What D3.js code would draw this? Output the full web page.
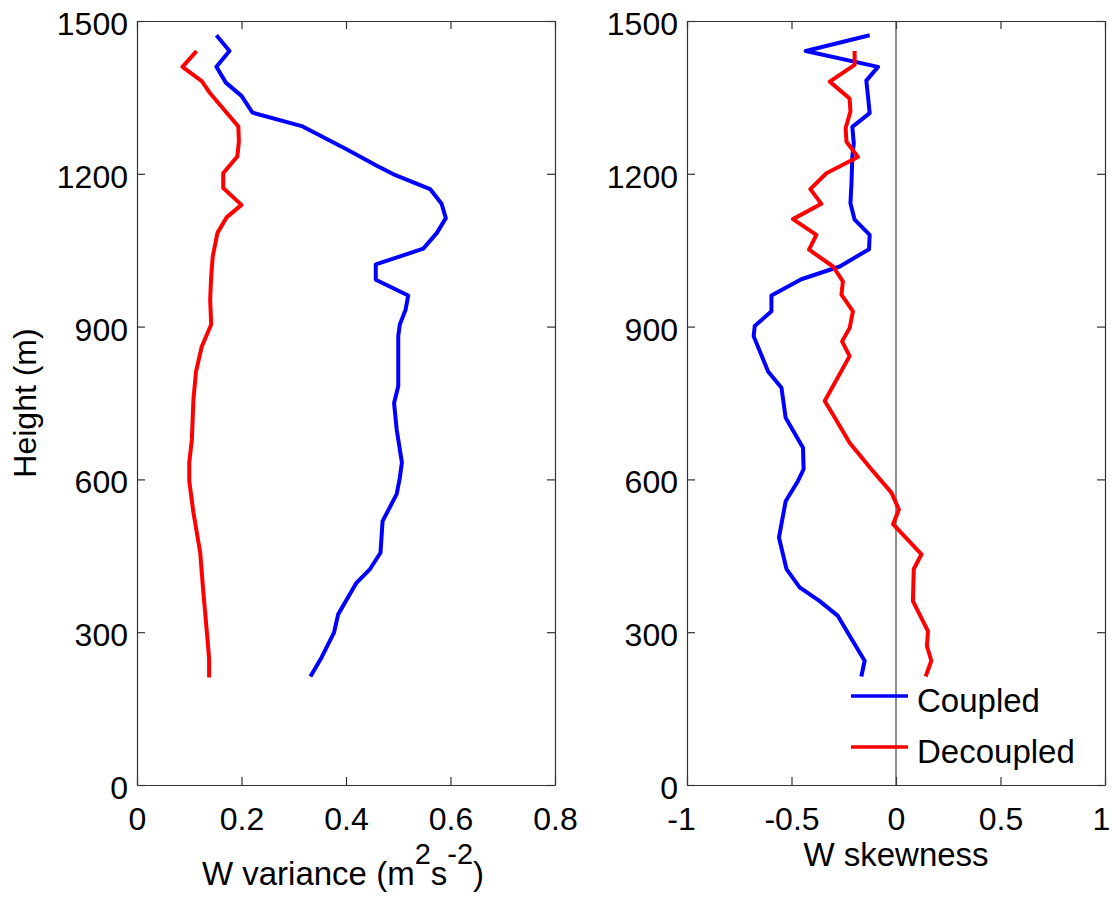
<!DOCTYPE html>
<html>
<head>
<meta charset="utf-8">
<script src="https://unpkg.com/d3@7/dist/d3.min.js"></script>
<style>
  body { margin: 0; background: #fff; }
  text { font-family: "Liberation Sans", Arial, sans-serif; fill: #000; }
</style>
</head>
<body>
<svg id="chart" width="1112" height="899"></svg>
<script>
// left panel: vertical velocity variance
const varCoupledHeight = [1472,1441,1410,1379,1353,1320,1293,1248,1216,1199,1170,1141,1113,1084,1053,1022,992,961,933,904,881,783,750,698,633,603,571,518,456,424,397,335,299,250,213]
const varCoupled = [0.152,0.177,0.152,0.170,0.200,0.221,0.317,0.401,0.459,0.491,0.561,0.583,0.591,0.574,0.548,0.457,0.457,0.519,0.514,0.503,0.500,0.500,0.492,0.497,0.507,0.503,0.497,0.470,0.466,0.446,0.420,0.385,0.377,0.353,0.332]

const varDecoupledHeight = [1441,1410,1382,1358,1335,1293,1263,1234,1201,1172,1139,1115,1084,1038,999,953,904,861,812,757,678,633,597,535,456,378,286,247,211]
const varDecoupled = [0.114,0.087,0.124,0.140,0.159,0.194,0.195,0.192,0.165,0.165,0.200,0.172,0.154,0.145,0.142,0.140,0.142,0.124,0.113,0.108,0.105,0.100,0.100,0.108,0.121,0.127,0.135,0.138,0.138]

// right panel: skewness
const skewCoupledHeight = [1472,1441,1410,1383,1352,1319,1292,1260,1234,1182,1142,1110,1080,1052,1018,993,961,930,901,881,812,780,721,662,620,597,557,486,424,388,361,332,293,244,213]
const skewCoupled = [-0.126,-0.432,-0.086,-0.142,-0.134,-0.126,-0.209,-0.202,-0.209,-0.213,-0.218,-0.198,-0.126,-0.129,-0.269,-0.453,-0.596,-0.596,-0.676,-0.681,-0.612,-0.548,-0.528,-0.445,-0.442,-0.469,-0.528,-0.560,-0.524,-0.461,-0.365,-0.278,-0.222,-0.150,-0.166]

const skewDecoupledHeight = [1441,1414,1381,1348,1322,1290,1263,1233,1201,1170,1141,1111,1080,1051,1018,989,963,930,897,871,842,754,727,672,620,574,541,512,453,424,361,302,273,244,213]
const skewDecoupled = [-0.198,-0.198,-0.317,-0.222,-0.218,-0.241,-0.237,-0.182,-0.333,-0.410,-0.357,-0.493,-0.381,-0.416,-0.301,-0.254,-0.261,-0.206,-0.222,-0.258,-0.222,-0.341,-0.301,-0.222,-0.118,-0.022,0.014,-0.014,0.122,0.085,0.081,0.153,0.148,0.169,0.142]

const heightTicks = [0, 300, 600, 900, 1200, 1500]
const varTicks = [0, 0.2, 0.4, 0.6, 0.8]
const skewTicks = [-1, -0.5, 0, 0.5, 1]
const legendNames = ["Coupled", "Decoupled"]
const colors = ["#0000ff", "#ff0000"]

const svg = d3.select("#chart")
const yTop = 21, yBottom = 785

const y = d3.scaleLinear().domain([0, 1500]).range([yBottom, yTop])
const xVar = d3.scaleLinear().domain([0, 0.8]).range([137, 555])
const xSkew = d3.scaleLinear().domain([-1, 1]).range([687, 1105])

function drawFrame(x, ticks) {
    const g = svg.append("g")
    const fmt = d => String(d)

    const bottomAxis = g.append("g")
        .attr("transform", `translate(0,${yBottom})`)
        .call(d3.axisBottom(x).tickValues(ticks).tickFormat(fmt).tickSizeInner(-8).tickSizeOuter(0).tickPadding(22))
    g.append("g")
        .attr("transform", `translate(0,${yTop})`)
        .call(d3.axisTop(x).tickValues(ticks).tickFormat("").tickSizeInner(-8).tickSizeOuter(0))
    const left = g.append("g")
        .attr("transform", `translate(${x.range()[0]},0)`)
        .call(d3.axisLeft(y).tickValues(heightTicks).tickFormat(fmt).tickSizeInner(-8).tickSizeOuter(0).tickPadding(9))
    g.append("g")
        .attr("transform", `translate(${x.range()[1]},0)`)
        .call(d3.axisRight(y).tickValues(heightTicks).tickFormat("").tickSizeInner(-8).tickSizeOuter(0))

    g.selectAll(".domain").attr("stroke", "#333").attr("stroke-width", 1.2)
    g.selectAll(".tick line").attr("stroke", "#333").attr("stroke-width", 1.2)
    g.selectAll(".tick text")
        .style("font-family", '"Liberation Sans", Arial, sans-serif')
        .style("font-size", "32px")
        .attr("fill", "#000")
    left.selectAll(".tick text").attr("dy", "0.42em")
    return bottomAxis
}

drawFrame(xVar, varTicks)
const skewAxis = drawFrame(xSkew, skewTicks)
// keep the last label "1" inside the page, as in the original
skewAxis.selectAll(".tick text").filter(d => d === 1).attr("dx", -4)
skewAxis.selectAll(".tick text").filter(d => d === -1).attr("dx", -6)

// zero line in skewness panel
svg.append("line")
    .attr("x1", xSkew(0)).attr("x2", xSkew(0))
    .attr("y1", y(0)).attr("y2", y(1500))
    .attr("stroke", "#444").attr("stroke-width", 1.2)

function drawProfile(x, heights, values, color) {
    const pts = heights.map((h, i) => [values[i], h])
    svg.append("path")
        .datum(pts)
        .attr("fill", "none")
        .attr("stroke", color)
        .attr("stroke-width", 4)
        .attr("stroke-linejoin", "round")
        .attr("d", d3.line().x(d => x(d[0])).y(d => y(d[1])))
}

drawProfile(xVar, varCoupledHeight, varCoupled, colors[0])
drawProfile(xVar, varDecoupledHeight, varDecoupled, colors[1])
drawProfile(xSkew, skewCoupledHeight, skewCoupled, colors[0])
drawProfile(xSkew, skewDecoupledHeight, skewDecoupled, colors[1])

// axis labels
svg.append("text")
    .attr("transform", `translate(36,${(yTop + yBottom) / 2}) rotate(-90)`)
    .attr("text-anchor", "middle")
    .style("font-size", "32px")
    .text("Height (m)")

const varLabel = svg.append("text")
    .attr("x", 343).attr("y", 885)
    .attr("text-anchor", "middle")
    .style("font-size", "33px")
varLabel.append("tspan").text("W variance (m")
varLabel.append("tspan").attr("dy", -21).style("font-size", "29px").text("2")
varLabel.append("tspan").attr("dy", 21).text("s")
varLabel.append("tspan").attr("dy", -21).style("font-size", "29px").text("-2")
varLabel.append("tspan").attr("dy", 21).text(")")

svg.append("text")
    .attr("x", xSkew(0)).attr("y", 866)
    .attr("text-anchor", "middle")
    .style("font-size", "33px")
    .text("W skewness")

// legend, no box
const legend = svg.append("g")
legendNames.forEach((name, i) => {
    const ly = 696 + i * 51
    legend.append("line")
        .attr("x1", 851).attr("x2", 908)
        .attr("y1", ly).attr("y2", ly)
        .attr("stroke", colors[i]).attr("stroke-width", 3.5)
    legend.append("text")
        .attr("x", 917).attr("y", ly + 16)
        .style("font-size", "33px")
        .text(name)
})
</script>
</body>
</html>
